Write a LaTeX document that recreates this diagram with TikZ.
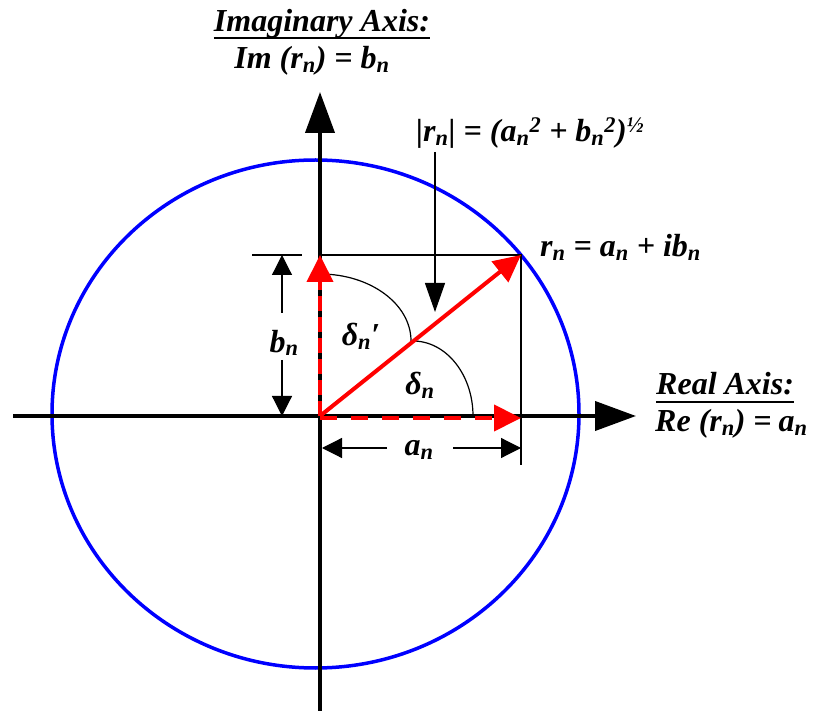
\documentclass[tikz,border=0pt]{standalone}
\usepackage{fontspec}
\setmainfont{Liberation Serif}
\usetikzlibrary{arrows.meta}
\newcommand{\sbn}{\textsubscript{\textit{n}}}
\tikzset{
  axisline/.style={line width=4pt, -{Triangle[length=41pt,width=29pt]}},
  thinline/.style={line width=1.2pt},
  dimarr/.style={line width=1.2pt, -{Triangle[length=20pt,width=20pt]}},
  downarr/.style={line width=1.2pt, -{Triangle[length=29pt,width=20pt]}},
  redarr/.style={draw=red, line width=4pt, -{Triangle[length=27pt,width=26pt]}},
  reddashv/.style={redarr, dash pattern=on 15pt off 6pt},
  reddashh/.style={redarr, dash pattern=on 17pt off 14pt},
  lbl/.style={font=\fontsize{32}{35}\selectfont\bfseries\itshape, inner sep=0pt},
  ulbar/.style={line width=2.5pt},
  circ/.style={draw=blue, line width=3.5pt},
  arcline/.style={line width=1.2pt},
}
\begin{document}
\begin{tikzpicture}[x=1pt,y=-1pt]
\useasboundingbox (0,0) rectangle (815,711);
% coordinates
\coordinate (O) at (320,416);
\coordinate (R) at (521,255);
\coordinate (Ry) at (320,255);
\coordinate (Rx) at (521,416);
\coordinate (xl) at (13,416);
\coordinate (xr) at (636,416);
\coordinate (yb) at (320,715);
\coordinate (yt) at (320,92);
\coordinate (C) at (315.5,414);
% ellipse
\draw[circ] (C) ellipse [x radius=263.5pt, y radius=254pt];
% axes
\draw[axisline] (xl) -- (xr);
\draw[axisline] (yb) -- (yt);
% rectangle guides
\coordinate (extB) at (521,465);
\coordinate (tl1) at (252,255);
\coordinate (tl2) at (302,255);
\draw[thinline] (Ry) -- (R) -- (extB);
\draw[thinline] (tl1) -- (tl2);
% b_n dimension
\node[lbl] (bn) at (284,343) {b\sbn};
\coordinate (bt) at (282,255);
\coordinate (bb) at (282,416);
\draw[dimarr] (282,313) -- (bt);
\draw[dimarr] (282,360) -- (bb);
% a_n dimension
\node[lbl] (an) at (419,450) {a\sbn};
\coordinate (al) at (322,448);
\coordinate (ar) at (521,448);
\draw[dimarr] (387,448) -- (al);
\draw[dimarr] (453,448) -- (ar);
% arcs
\draw[arcline] (320,274) arc[start angle=90, end angle=0, x radius=91pt, y radius=67pt];
\draw[arcline] (413,341) arc[start angle=90, end angle=0, x radius=60pt, y radius=75pt];
% red vectors
\draw[reddashv] (O) -- (Ry);
\draw[reddashh] ([yshift=-2pt]O) -- ([yshift=-2pt]Rx);
\draw[redarr] (O) -- (R);
% angle labels
\node[lbl] (dp) at (361,336) {δ\sbn′};
\node[lbl] (d) at (420,385) {δ\sbn};
% magnitude label and arrow
\node[lbl, anchor=base west] (mag) at (416,142) {|r\sbn| = (a\sbn\textsuperscript{2} + b\sbn\textsuperscript{2})\textsuperscript{½}};
\coordinate (ds) at (435,152);
\coordinate (de) at (435,312);
\draw[downarr] (ds) -- (de);
% r_n label
\node[lbl, anchor=base west] (rn) at (540,257) {r\sbn\ = a\sbn\ + ib\sbn};
% imaginary axis labels
\node[lbl, anchor=base] (imag) at (322,32) {Imaginary Axis:};
\draw[ulbar] ([yshift=-6pt]imag.base west) -- ([yshift=-6pt]imag.base east);
\node[lbl, anchor=base] (im) at (312,69) {Im (r\sbn) = b\sbn};
% real axis labels
\node[lbl, anchor=base west] (real) at (656,395) {Real Axis:};
\draw[ulbar] ([yshift=-7pt]real.base west) -- ([yshift=-7pt]real.base east);
\node[lbl, anchor=base west] (re) at (655,432) {Re (r\sbn) =\hspace{0.22em}a\sbn};
\end{tikzpicture}
\end{document}
